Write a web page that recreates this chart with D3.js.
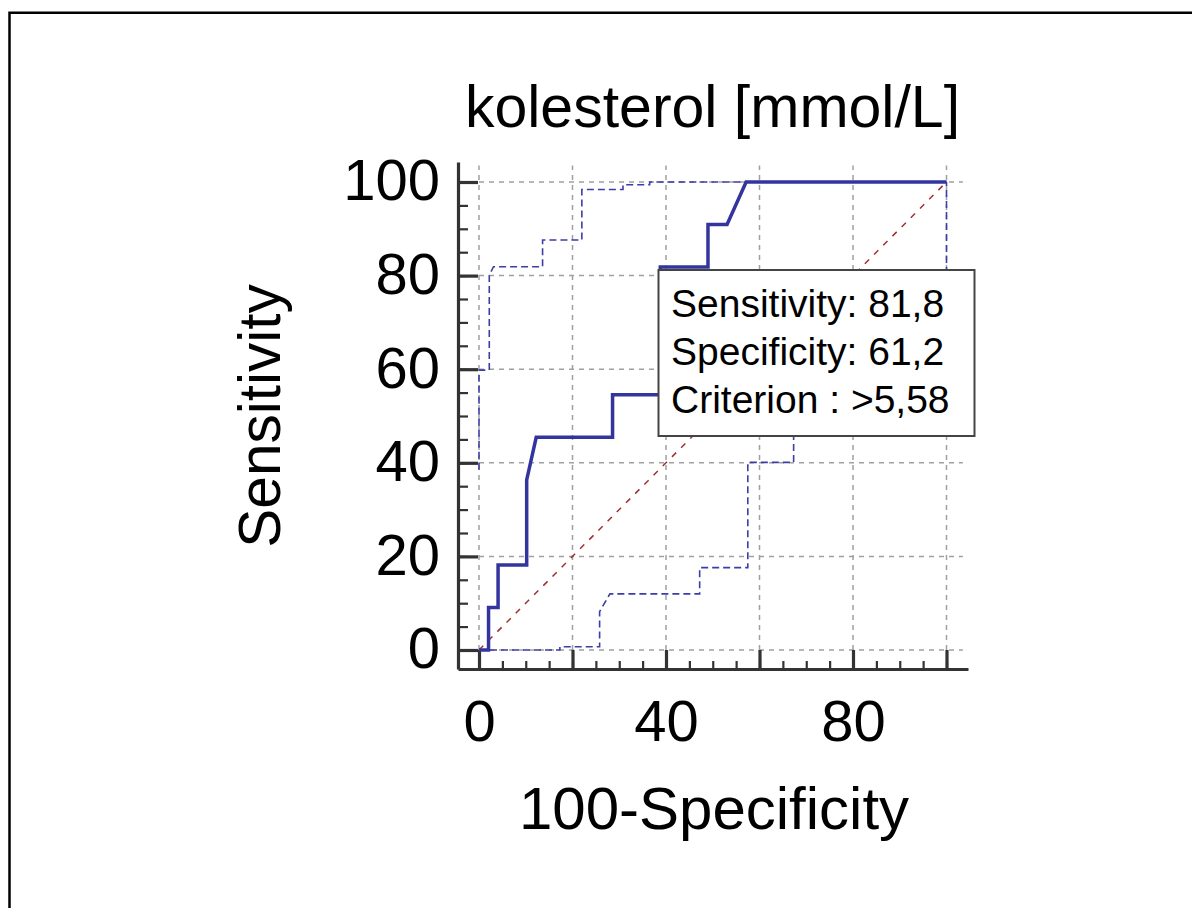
<!DOCTYPE html>
<html>
<head>
<meta charset="utf-8">
<script src="https://cdn.jsdelivr.net/npm/d3@7"></script>
<style>
  html, body { margin: 0; padding: 0; background: #fff; }
  svg { display: block; }
  text { font-family: "Liberation Sans", Arial, sans-serif; fill: #000; }
</style>
</head>
<body>
<svg id="chart" width="1201" height="908"></svg>
<script>
// ---- data ----
const title = "kolesterol [mmol/L]";
const xLabel = "100-Specificity";
const yLabel = "Sensitivity";

// ROC curve (100-Specificity, Sensitivity)
const rocFpr  = [0, 2.04, 2.04, 4.08, 4.08, 10.2, 10.2, 12.24, 28.57, 28.57, 38.78, 38.78, 48.98, 48.98, 53.06, 57.14, 100];
const rocSens = [0, 0, 9.09, 9.09, 18.18, 18.18, 36.36, 45.45, 45.45, 54.55, 54.55, 81.82, 81.82, 90.91, 90.91, 100, 100];

// upper 95% confidence bound
const upperFpr  = [0, 0, 2.2, 2.2, 3.1, 13.6, 13.6, 22.0, 22.0, 30.8, 30.8, 36.5, 36.5, 100];
const upperSens = [38.5, 59.8, 59.8, 80.1, 81.9, 81.9, 87.6, 87.6, 98.4, 98.4, 99.4, 99.4, 100, 100];

// lower 95% confidence bound
const lowerFpr  = [0, 17.3, 17.3, 25.8, 25.8, 28.0, 47.2, 47.2, 57.5, 57.5, 67.3, 67.3, 77.6, 77.6, 87.8, 87.8, 100, 100];
const lowerSens = [0, 0, 0.7, 0.7, 8.2, 12.0, 12.0, 17.6, 17.6, 40.1, 40.1, 50, 50, 62, 62, 72, 72, 100];

// reference diagonal
const diagFpr  = [0, 100];
const diagSens = [0, 100];

// ticks
const xMajorTicks = [0, 20, 40, 60, 80, 100];
const xTickLabels = [0, 40, 80];
const yMajorTicks = [0, 20, 40, 60, 80, 100];
const yTickLabels = [0, 20, 40, 60, 80, 100];
const minorTicks  = d3.range(0, 101, 5);

// info box
const infoLines = ["Sensitivity: 81,8", "Specificity: 61,2", "Criterion : >5,58"];

// ---- layout ----
const svg = d3.select("#chart");
const FONT = 58;

const x = d3.scaleLinear().domain([0, 100]).range([479, 946.5]);
const y = d3.scaleLinear().domain([0, 100]).range([650, 182]);

const axisLeftX = 458, axisBottomY = 669;
const axisTopY = 162, axisRightX = 968;

// outer frame (left + top)
svg.append("path")
  .attr("d", `M9.5,908 L9.5,12.8 L1192,12.8`)
  .attr("fill", "none").attr("stroke", "#000").attr("stroke-width", 2.5);

// grid
const gridTop = y(103.5), gridRight = x(103.5);
const grid = svg.append("g").attr("stroke", "#a0a0a0").attr("stroke-width", 1.5)
  .attr("stroke-dasharray", "5,5");
xMajorTicks.forEach(t => {
  grid.append("line").attr("x1", x(t)).attr("x2", x(t)).attr("y1", y(0)).attr("y2", gridTop);
});
yMajorTicks.forEach(t => {
  grid.append("line").attr("x1", x(0)).attr("x2", gridRight).attr("y1", y(t)).attr("y2", y(t));
});

// axes scales spanning the axis lines
const xAxisScale = x.copy().domain([x.invert(axisLeftX), x.invert(axisRightX)]).range([axisLeftX, axisRightX]);
const yAxisScale = y.copy().domain([y.invert(axisBottomY), y.invert(axisTopY)]).range([axisBottomY, axisTopY]);

// minor ticks
svg.append("g").attr("transform", `translate(${axisLeftX},0)`)
  .call(d3.axisLeft(yAxisScale).tickValues(minorTicks).tickSizeInner(-10).tickSizeOuter(0).tickFormat(""))
  .call(g => g.select(".domain").remove())
  .call(g => g.selectAll("line").attr("stroke", "#333").attr("stroke-width", 2.2));
svg.append("g").attr("transform", `translate(0,${axisBottomY})`)
  .call(d3.axisBottom(xAxisScale).tickValues(minorTicks).tickSizeInner(-8).tickSizeOuter(0).tickFormat(""))
  .call(g => g.select(".domain").remove())
  .call(g => g.selectAll("line").attr("stroke", "#333").attr("stroke-width", 2.2));

// major axes
const yAxis = svg.append("g").attr("transform", `translate(${axisLeftX},0)`)
  .call(d3.axisLeft(yAxisScale).tickValues(yMajorTicks).tickSizeInner(-20).tickSizeOuter(0).tickPadding(18)
    .tickFormat(d => yTickLabels.includes(d) ? d : ""));
yAxis.select(".domain").attr("stroke", "#333").attr("stroke-width", 3.2);
yAxis.selectAll(".tick line").attr("stroke", "#333").attr("stroke-width", 3.2);
yAxis.selectAll(".tick text").attr("font-size", FONT).attr("font-family", '"Liberation Sans", Arial, sans-serif')
  .attr("fill", "#000").attr("dy", "0.31em");

const xAxis = svg.append("g").attr("transform", `translate(0,${axisBottomY})`)
  .call(d3.axisBottom(xAxisScale).tickValues(xMajorTicks).tickSizeInner(-19).tickSizeOuter(0).tickPadding(31)
    .tickFormat(d => xTickLabels.includes(d) ? d : ""));
xAxis.select(".domain").attr("stroke", "#333").attr("stroke-width", 3.2);
xAxis.selectAll(".tick line").attr("stroke", "#333").attr("stroke-width", 3.2);
xAxis.selectAll(".tick text").attr("font-size", FONT).attr("font-family", '"Liberation Sans", Arial, sans-serif')
  .attr("fill", "#000").attr("dy", "0.71em");

// lines
const toPts = (xs, ys) => xs.map((v, i) => [v, ys[i]]);
const line = d3.line().x(d => x(d[0])).y(d => y(d[1]));

svg.append("path").datum(toPts(diagFpr, diagSens)).attr("d", line)
  .attr("fill", "none").attr("stroke", "#a03030").attr("stroke-width", 1.5).attr("stroke-dasharray", "6,7");

svg.append("path").datum(toPts(upperFpr, upperSens)).attr("d", line)
  .attr("fill", "none").attr("stroke", "#3d3da8").attr("stroke-width", 1.6).attr("stroke-dasharray", "7,4");
svg.append("path").datum(toPts(lowerFpr, lowerSens)).attr("d", line)
  .attr("fill", "none").attr("stroke", "#3d3da8").attr("stroke-width", 1.6).attr("stroke-dasharray", "7,4");

svg.append("path").datum(toPts(rocFpr, rocSens)).attr("d", line)
  .attr("fill", "none").attr("stroke", "#34349e").attr("stroke-width", 3.5).attr("stroke-linejoin", "miter");

// info box
svg.append("rect").attr("x", 658.5).attr("y", 270).attr("width", 316).attr("height", 166)
  .attr("fill", "#fff").attr("stroke", "#444").attr("stroke-width", 2);
svg.append("g").selectAll("text").data(infoLines).join("text")
  .attr("x", 671).attr("y", (d, i) => 317 + i * 48.2)
  .attr("font-size", 39).text(d => d);

// title and axis labels
svg.append("text").attr("x", 712.5).attr("y", 127).attr("text-anchor", "middle")
  .attr("font-size", 59).text(title);
svg.append("text").attr("x", 714).attr("y", 829).attr("text-anchor", "middle")
  .attr("font-size", 60).text(xLabel);
svg.append("text").attr("transform", `translate(280,416) rotate(-90)`).attr("text-anchor", "middle")
  .attr("font-size", 58.5).text(yLabel);
</script>
</body>
</html>
